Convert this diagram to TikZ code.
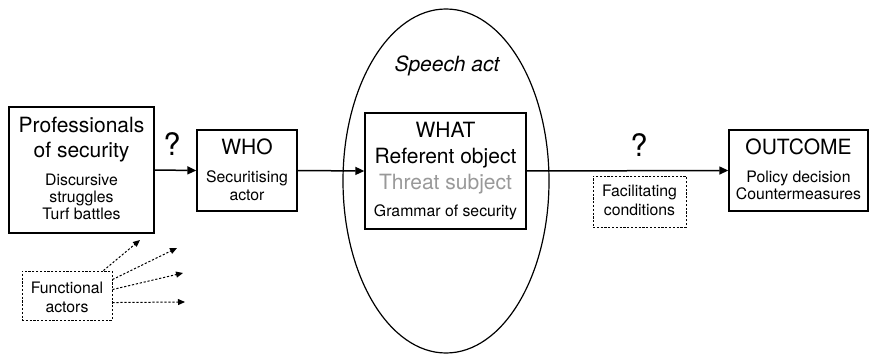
\documentclass[tikz,border=0pt]{standalone}
\usepackage{fontspec}
\setmainfont{TeX Gyre Heros}
\usetikzlibrary{arrows.meta,shapes.geometric}
\begin{document}
\begin{tikzpicture}[x=1pt,y=-1pt,
 box/.style={draw,line width=1.4pt,inner sep=0pt},
 dbox/.style={draw,line width=0.9pt,dash pattern=on 2.2pt off 1.6pt,inner sep=0pt},
 big/.style={font=\fontsize{21}{24}\selectfont,anchor=base,inner sep=0pt},
 small/.style={font=\fontsize{15.8}{18}\selectfont,anchor=base,inner sep=0pt},
 qm/.style={font=\fontsize{31}{34}\selectfont,anchor=base,inner sep=0pt},
 flow/.style={line width=1.5pt,-{Triangle[length=9pt,width=8pt]}},
 dflow/.style={line width=1pt,dash pattern=on 2.2pt off 1.8pt,-{Triangle[length=7pt,width=6pt]}}]
\useasboundingbox (0,0) rectangle (872,355);
% ellipse
\node[draw,ellipse,line width=1.2pt,inner sep=0pt,minimum width=206pt,minimum height=344pt] (sa) at (446,181) {};
\node[big,font=\fontsize{21}{24}\selectfont\itshape] (satxt) at (447,72) {Speech act};
% boxes
\node[box,minimum width=145pt,minimum height=126pt] (prof) at (81.5,170) {};
\node[box,minimum width=100pt,minimum height=81pt] (who) at (247,170.5) {};
\node[box,fill=white,minimum width=161pt,minimum height=116pt] (what) at (445.5,171) {};
\node[box,minimum width=139pt,minimum height=81pt] (out) at (798.5,170.5) {};
\node[dbox,minimum width=93pt,minimum height=51pt] (fac) at (639.5,201.5) {};
\node[dbox,minimum width=90pt,minimum height=49pt] (fa) at (67,295.5) {};
% texts
\node[big] (p1) at (81.5,133) {Professionals};
\node[big] (p2) at (81.5,158) {of security};
\node[small] (p3) at (81.5,186) {Discursive};
\node[small] (p4) at (81.5,203) {struggles};
\node[small] (p5) at (81.5,220) {Turf battles};
\node[big] (w1) at (247,155) {WHO};
\node[small] (w2) at (247,183) {Securitising};
\node[small] (w3) at (247,201) {actor};
\node[big] (h1) at (445.5,138) {WHAT};
\node[big] (h2) at (445.5,164) {Referent object};
\node[big,text=black!40] (h3) at (445.5,190) {Threat subject};
\node[small] (h4) at (445.5,217) {Grammar of security};
\node[big] (o1) at (798.5,155) {OUTCOME};
\node[small] (o2) at (798.5,183) {Policy decision};
\node[small] (o3) at (798.5,200) {Countermeasures};
\node[small] (f1) at (639.5,197) {Facilitating};
\node[small] (f2) at (639.5,216) {conditions};
\node[small] (a1) at (67,293) {Functional};
\node[small] (a2) at (67,312) {actors};
\node[qm] (q1) at (172,156) {?};
\node[qm] (q2) at (639,157) {?};
% connectors
\draw[flow] (prof.east) -- (who.west);
\draw[flow] (who.east) -- (what.west);
\draw[flow] (what.east) -- (out.west);
\coordinate (t1) at (140,240);
\coordinate (t2) at (177,248);
\coordinate (t3) at (183,273);
\coordinate (t4) at (185,302);
\draw[dflow] ([shift={(-9,0)}]fa.north east) -- (t1);
\draw[dflow] ([shift={(0,9)}]fa.north east) -- (t2);
\draw[dflow] ([shift={(0,19)}]fa.north east) -- (t3);
\draw[dflow] ([shift={(0,32)}]fa.north east) -- (t4);
\end{tikzpicture}
\end{document}
